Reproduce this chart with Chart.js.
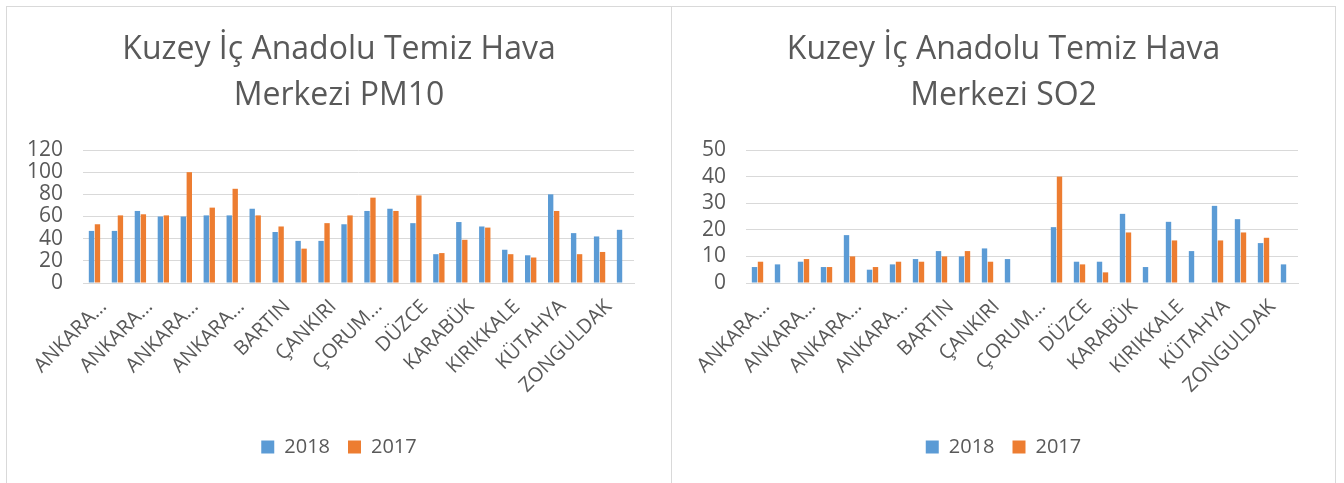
<!DOCTYPE html>
<html>
<head>
<meta charset="utf-8">
<script src="https://cdn.jsdelivr.net/npm/chart.js@4/dist/chart.umd.min.js"></script>
<style>
html,body{margin:0;padding:0;background:#ffffff;width:1344px;height:483px;overflow:hidden;}
.panel{position:absolute;top:6px;height:477px;border:1px solid #D9D9D9;border-bottom:none;box-sizing:border-box;background:#fff;}
#p1{left:6px;width:666px;}
#p2{left:671px;width:665px;}
.panel canvas{position:absolute;left:0;top:0;}
</style>
</head>
<body>
<div class="panel" id="p1"><canvas id="c1" width="664" height="476"></canvas></div>
<div class="panel" id="p2"><canvas id="c2" width="663" height="476"></canvas></div>
<script>
// ---- data ----
const CATEGORIES = [
  'ANKARA-Bahçelievler','ANKARA-Cebeci','ANKARA-Demetevler','ANKARA-Dikmen',
  'ANKARA-Kayaş','ANKARA-Keçiören','ANKARA-Sıhhiye','ANKARA-Sincan',
  'BARTIN','BOLU','ÇANKIRI','ÇORUM','ÇORUM-Mimar Sinan','ÇORUM-Şirinevler',
  'DÜZCE','DÜZCE-Kültür Merkezi','KARABÜK','KASTAMONU','KIRIKKALE','KIRIKKALE-Merkez',
  'KÜTAHYA','KÜTAHYA-Tavşanlı','ZONGULDAK','ZONGULDAK-Kdz.Ereğli'
];
const SERIES_NAMES = ['2018','2017'];
const PM10_2018 = [47,47,65,60,60,61,61,67,46,38,38,53,65,67,54,26,55,51,30,25,80,45,42,48];
const PM10_2017 = [53,61,62,61,100,68,85,61,51,31,54,61,77,65,79,27,39,50,26,23,65,26,28,null];
const SO2_2018 = [6,7,8,6,18,5,7,9,12,10,13,9,null,21,8,8,26,6,23,12,29,24,15,7];
const SO2_2017 = [8,null,9,6,10,6,8,8,10,12,8,null,null,40,7,4,19,null,16,null,16,19,17,null];
const PM10_TITLE = ['Kuzey İç Anadolu Temiz Hava','Merkezi PM10'];
const SO2_TITLE = ['Kuzey İç Anadolu Temiz Hava','Merkezi SO2'];
const PM10_Y = {min:0, max:120, step:20};
const SO2_Y = {min:0, max:50, step:10};

// ---- styling ----
const BLUE = '#5B9BD5';
const ORANGE = '#ED7D31';
const TEXT = '#595959';
const GRID = '#D9D9D9';
Chart.defaults.font.family = "'Open Sans', 'Liberation Sans', sans-serif";
Chart.defaults.color = TEXT;

function shortLabel(lbl){
  return lbl.indexOf('-') >= 0 ? lbl.split('-')[0] + '…' : lbl;
}

function makeChart(id, title, s2018, s2017, yr, yWidth){
  return new Chart(document.getElementById(id), {
    type: 'bar',
    data: {
      labels: CATEGORIES,
      datasets: [
        {label: SERIES_NAMES[0], data: s2018, backgroundColor: BLUE, borderWidth: 0,
         categoryPercentage: 0.52, barPercentage: 0.9},
        {label: SERIES_NAMES[1], data: s2017, backgroundColor: ORANGE, borderWidth: 0,
         categoryPercentage: 0.52, barPercentage: 0.9}
      ]
    },
    options: {
      responsive: false,
      animation: false,
      layout: {padding: {left: 18, right: 18, top: 0, bottom: 16}},
      plugins: {
        title: {
          display: true, text: title, color: TEXT,
          font: {size: 32, weight: 'normal', lineHeight: '46px'},
          padding: {top: 20, bottom: 31}
        },
        legend: {
          position: 'bottom',
          labels: {boxWidth: 13, boxHeight: 13, padding: 18, color: TEXT, font: {size: 20}}
        },
        tooltip: {enabled: false}
      },
      scales: {
        x: {
          grid: {display: false},
          border: {display: true, color: GRID, width: 1},
          ticks: {
            autoSkip: false, maxRotation: 45, minRotation: 45, padding: 4, labelOffset: 9,
            color: TEXT, font: {size: 20},
            callback: function(v, i){ return i % 2 === 0 ? shortLabel(CATEGORIES[i]) : ''; }
          },
          afterFit: function(s){ s.height = 136; }
        },
        y: {
          min: yr.min, max: yr.max,
          grid: {color: GRID, lineWidth: 1, drawTicks: false},
          border: {display: false},
          ticks: {stepSize: yr.step, autoSkip: false, padding: 20, color: TEXT, font: {size: 21}},
          afterFit: function(s){ s.width = yWidth; }
        },
        spacer: {
          type: 'linear', position: 'right', display: true,
          grid: {display: false}, border: {display: false},
          ticks: {display: false},
          afterFit: function(s){ s.width = 19; }
        }
      }
    }
  });
}

makeChart('c1', PM10_TITLE, PM10_2018, PM10_2017, PM10_Y, 58);
makeChart('c2', SO2_TITLE, SO2_2018, SO2_2017, SO2_Y, 56);
</script>
</body>
</html>
